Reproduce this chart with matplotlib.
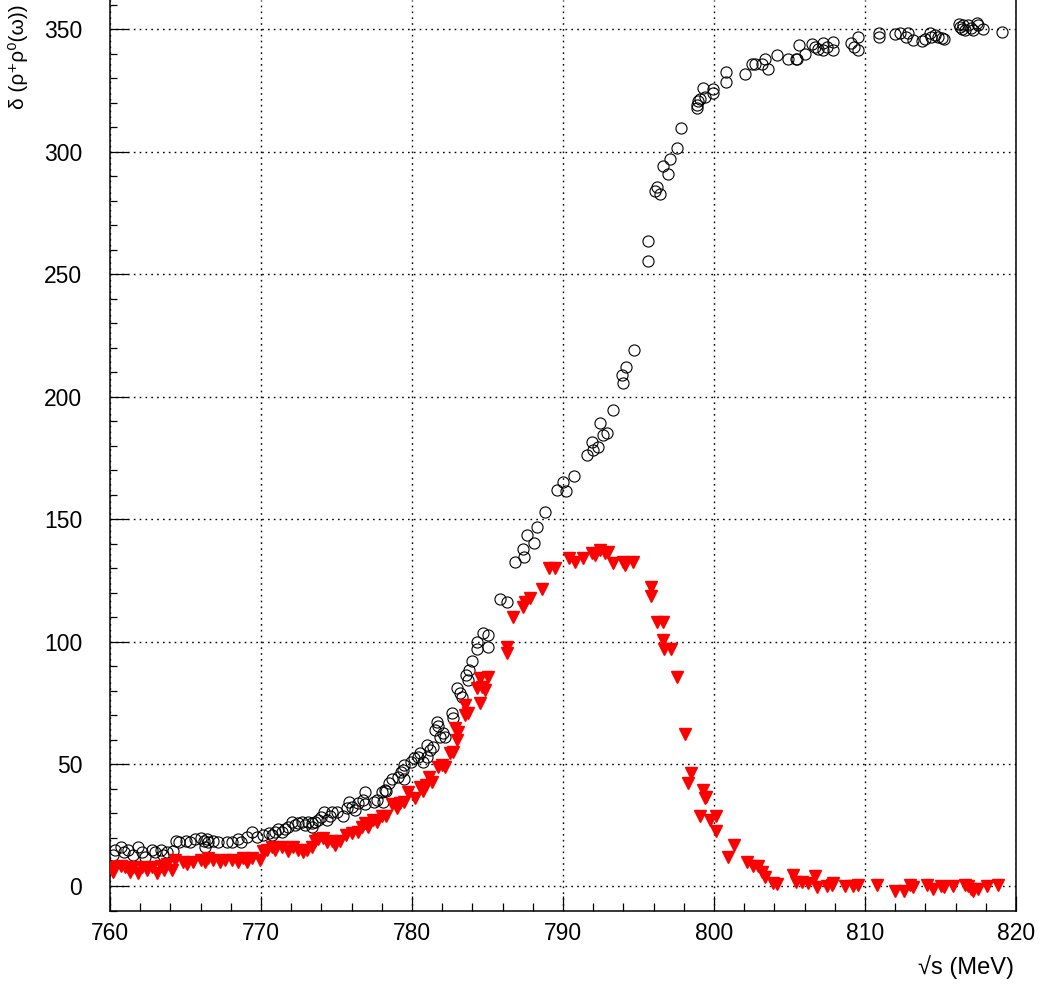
import matplotlib
matplotlib.use('Agg')
import matplotlib.pyplot as plt
from matplotlib.ticker import MultipleLocator

plt.rcParams['font.family'] = ['Liberation Sans', 'DejaVu Sans']

# delta(rho+ rho0 (omega)) - black open circles
circ_x = [760.2, 760.3, 760.7, 760.9, 761.2, 761.5, 761.85, 762.1, 762.3, 762.8,
          763.0, 763.4, 763.5, 763.8, 764.2, 764.4, 764.6, 765.0, 765.3, 765.6,
          766.0, 766.2, 766.3, 766.4, 766.5, 766.8, 767.15, 767.75, 768.1, 768.5,
          768.7, 769.1, 769.4, 769.7, 770.1, 770.5, 770.7, 770.9, 771.1, 771.4,
          771.6, 771.8, 772.05, 772.25, 772.45, 772.7, 772.9, 773.1, 773.4, 773.4,
          773.6, 773.8, 774.0, 774.2, 774.4, 774.6, 774.7, 775.0, 775.4, 775.7,
          775.8, 776.0, 776.2, 776.4, 776.75, 776.9, 776.9, 777.5, 777.7, 778.0,
          778.1, 778.2, 778.3, 778.5, 778.7, 779.1, 779.3, 779.4, 779.5, 779.5,
          779.9, 780.1, 780.4, 780.5, 780.7, 781.0, 781.0, 781.2, 781.4, 781.5,
          781.65, 781.7, 781.85, 782.05, 782.2, 782.65, 782.7, 783.0, 783.2, 783.3,
          783.6, 783.7, 783.8, 784.0, 784.3, 784.3, 784.7, 785.0, 785.0, 785.8,
          786.3, 786.8, 787.35, 787.4, 787.6, 788.1, 788.3, 788.8, 789.6, 790.0,
          790.2, 790.7, 791.6, 791.9, 792.0, 792.3, 792.45, 792.65, 792.9, 793.3,
          793.9, 794.0, 794.2, 794.7, 795.6, 795.6, 796.1, 796.2, 796.4, 796.6,
          796.95, 797.1, 797.55, 797.8, 798.9, 798.9, 798.95, 799.1, 799.3, 799.4,
          799.9, 799.9, 800.8, 800.8, 802.05, 802.5, 802.7, 803.2, 803.4, 803.6,
          804.2, 804.9, 805.4, 805.5, 805.6, 806.0, 806.5, 806.7, 806.9, 807.2,
          807.2, 807.5, 807.9, 807.9, 809.1, 809.3, 809.5, 809.5, 810.9, 810.9,
          812.0, 812.3, 812.7, 812.85, 813.2, 813.8, 814.0, 814.3, 814.4, 814.6,
          814.8, 815.1, 815.2, 816.2, 816.3, 816.4, 816.5, 816.6, 816.8, 817.0,
          817.15, 817.4, 817.5, 817.8, 819.1]
circ_y = [13, 15, 16, 13.9, 15, 13, 16, 13.9, 12.2, 15,
          13.9, 15, 13, 13.9, 14.3, 18.4, 18, 18.4, 18, 19.2,
          20, 18.4, 16.3, 19.2, 18, 18.4, 18, 18, 18, 19.2,
          18, 20.4, 22.4, 20.4, 21.2, 22, 21.2, 22.4, 23.3, 22.4,
          23.3, 24.5, 26.5, 25.3, 26.1, 26.5, 25.3, 26.5, 26.1, 24.1,
          26.5, 27.3, 28.2, 30.6, 27.3, 28.6, 30.6, 30.6, 28.6, 32.2,
          34.7, 32.6, 31.4, 34.3, 35.5, 38.4, 33.5, 34.7, 35.5, 38.4,
          34.7, 39.6, 38.8, 42.4, 43.7, 44.9, 46.9, 47.7, 43.7, 49.8,
          51, 52.6, 53, 54.7, 51, 57.9, 53, 55.9, 57.1, 64,
          67.3, 65.7, 61.2, 62.8, 61.2, 71, 69, 81.2, 79.2, 77.5,
          86.5, 84.5, 88.5, 92.2, 100, 97.1, 103.6, 102.8, 98, 117.5,
          116.3, 132.6, 137.9, 134.6, 143.6, 140.3, 146.9, 153, 162, 165.2,
          161.6, 167.7, 176.3, 181.6, 178.3, 179.5, 189.3, 184.4, 185.2, 194.6,
          209, 205.6, 212, 219, 255.4, 263.6, 284, 285.6, 282.7, 294.2,
          291, 297, 301.5, 309.7, 317.8, 319, 320.7, 321.5, 326, 322.3,
          324, 325.6, 332.5, 328.4, 331.7, 336, 336, 336, 338, 334,
          339.5, 338, 338, 338, 343.5, 340, 344, 342.7, 342, 344.4,
          341.5, 342.7, 344.8, 341.5, 344.4, 342.7, 346.8, 341.5, 348.4, 346.8,
          348, 348.4, 346.8, 348.4, 345.6, 345.2, 346, 348.4, 346.8, 347.6,
          346.8, 346.4, 346, 352, 351, 350, 351.7, 349.7, 351.7, 350.5,
          349.7, 352.5, 351.7, 350, 348.8]

# red filled down-triangles
tri_x = [760.1, 760.2, 760.7, 761.0, 761.3, 761.5, 761.85, 762.1, 762.45, 762.8,
         763.1, 763.4, 763.6, 763.8, 764.1, 764.3, 764.8, 765.1, 765.5, 766.0,
         766.3, 766.5, 766.8, 767.3, 767.6, 768.1, 768.5, 768.8, 769.1, 769.4,
         769.9, 770.1, 770.4, 770.7, 770.9, 771.4, 771.8, 772.1, 772.45, 772.8,
         773.05, 773.4, 773.6, 773.8, 774.1, 774.4, 774.7, 774.9, 775.2, 775.6,
         776.0, 776.4, 776.7, 776.9, 777.1, 777.4, 777.7, 778.0, 778.3, 778.7,
         779.0, 779.2, 779.5, 779.7, 780.2, 780.5, 780.7, 780.9, 781.1, 781.3,
         781.7, 782.0, 782.2, 782.5, 782.7, 783.0, 783.05, 782.85, 783.5, 783.7,
         783.5, 784.5, 784.3, 784.6, 784.8, 784.5, 785.0, 786.3, 786.3, 786.7,
         787.35, 787.5, 787.8, 788.6, 789.1, 789.5, 790.4, 790.8, 791.3, 791.9,
         792.1, 792.45, 792.8, 793.0, 793.3, 794.0, 794.1, 794.6, 795.8, 795.8,
         796.2, 796.6, 796.6, 796.7, 797.15, 797.55, 798.1, 798.5, 798.3, 799.3,
         799.4, 799.5, 799.1, 799.7, 800.1, 800.1, 801.3, 800.9, 802.2, 802.6,
         802.9, 803.2, 803.4, 803.9, 804.2, 805.2, 805.4, 805.8, 806.2, 806.7,
         806.8, 807.5, 807.8, 807.9, 808.7, 809.2, 809.5, 810.8, 812.0, 812.6,
         813.0, 813.2, 814.1, 814.5, 815.0, 815.2, 815.8, 816.6, 816.8, 817.0,
         817.15, 817.5, 818.1, 818.8]
tri_y = [7.8, 6.1, 8.2, 7.8, 6.1, 7.8, 5.7, 7.8, 6.9, 7.8,
         5.7, 8.2, 6.9, 9, 6.9, 11, 10.2, 9, 9.8, 11,
         10.2, 11.8, 11, 9.8, 11, 11, 10.2, 11.8, 10.2, 11.8,
         11, 14.3, 15, 16, 15, 16, 14.3, 16, 15, 13.9,
         15, 16.3, 18.4, 19.2, 20, 18, 18.4, 17.1, 18.4, 21.2,
         22, 22.4, 24.1, 26.1, 24.5, 27.3, 26.5, 28.6, 28.6, 33.5,
         32.2, 34.3, 34.7, 38.4, 36.3, 40.8, 38.8, 41.6, 44.9, 42.8,
         48.6, 49.8, 49, 54.7, 55.1, 60, 63.2, 64.9, 70.2, 71,
         74.3, 75.1, 81.2, 81.6, 80.4, 85.3, 85.7, 97.9, 95.5, 110.2,
         114.2, 116.3, 117.9, 121.6, 130.2, 130.2, 134.2, 132.6, 134.2, 136.3,
         135.5, 137.5, 136.3, 136.7, 132.2, 132.6, 131.4, 132.6, 122.4, 118.7,
         108.1, 108.1, 100.8, 97.1, 97.1, 85.7, 62.4, 46.5, 42.4, 39.6,
         36.3, 36.7, 28.6, 27.3, 28.6, 22.8, 17.1, 12.2, 9.8, 8.2,
         8.2, 6.1, 3.7, 1.6, 1.2, 4.5, 2, 2, 1.6, 4.1,
         -0.4, 0, 0.8, 1.6, 0, 0, 0.8, 0.8, -2, -2,
         0.8, -0.4, 0.8, -1.2, 0, -0.4, 0, 0.8, 0, -1.2,
         -2, -1.2, 0, 0.8]

fig = plt.figure(figsize=(10.42, 9.84), dpi=100)
ax = fig.add_axes([0.1056, 0.0742, 0.8695, 0.9258])

ax.plot(circ_x, circ_y, 'o', ms=8, mfc='none', mec='black', mew=0.8, zorder=3)
ax.plot(tri_x, tri_y, 'v', ms=9, color='#ff0000', mec='#ff0000', zorder=3)

ax.set_xlim(760, 820)
ax.set_ylim(-10, 362)
ax.xaxis.set_major_locator(MultipleLocator(10))
ax.xaxis.set_minor_locator(MultipleLocator(2))
ax.yaxis.set_major_locator(MultipleLocator(50))
ax.yaxis.set_minor_locator(MultipleLocator(10))

ax.grid(True, which='major', color='black', linestyle=(0, (1.2, 3)), linewidth=1.0)
ax.tick_params(which='both', direction='in', top=False, right=False, width=0.9, labelsize=16.5)
ax.tick_params(axis='x', which='major', length=11, pad=8)
ax.tick_params(axis='x', which='minor', length=6)
ax.tick_params(axis='y', which='major', length=13, pad=20)
ax.tick_params(axis='y', which='minor', length=5)
ax.spines['top'].set_visible(False)
for s in ['left', 'bottom', 'right']:
    ax.spines[s].set_linewidth(1.1)

fig.text(18 / 1042, 1 - 4 / 984, 'δ (ρ⁺ρ⁰(ω))', rotation=90, ha='center', va='top', fontsize=15)
fig.text(1014 / 1042, 1 - 967 / 984, '√s (MeV)', ha='right', va='center', fontsize=17)

fig.savefig('out.png', dpi=100)
